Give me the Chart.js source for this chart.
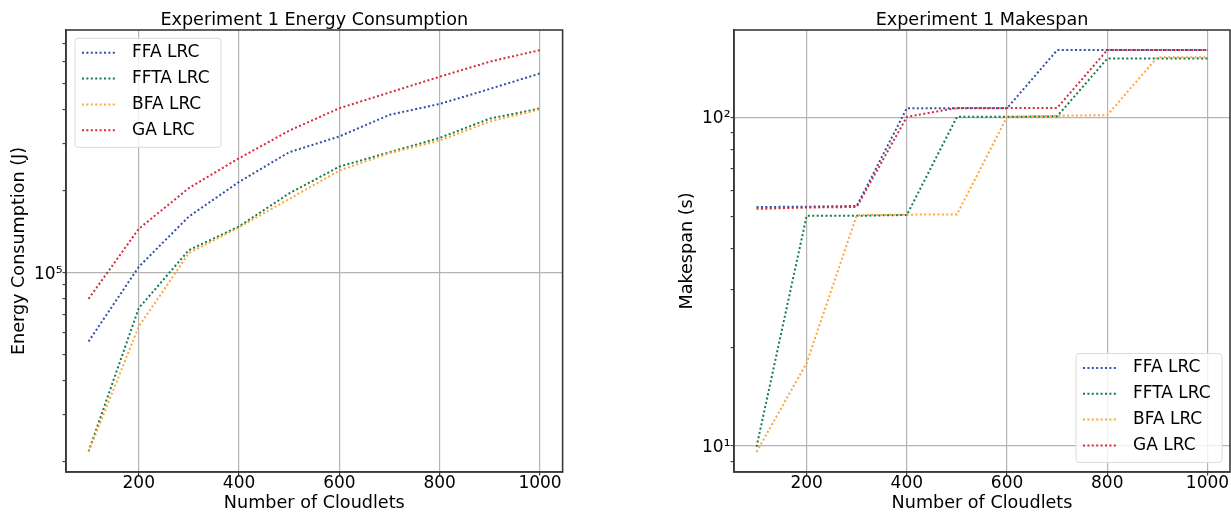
<!DOCTYPE html>
<html>
<head>
<meta charset="utf-8">
<script src="https://cdn.jsdelivr.net/npm/chart.js@4.4.0/dist/chart.umd.min.js"></script>
<style>
  html, body { margin: 0; padding: 0; background: #fff; }
  body { width: 1231px; height: 512px; position: relative; overflow: hidden; }
  .panel { position: absolute; top: 0; height: 512px; }
  #energyPanel { left: 0; width: 580px; }
  #makespanPanel { left: 660px; width: 571px; }
</style>
</head>
<body>
<div class="panel" id="energyPanel"><canvas id="energyChart" width="580" height="512"></canvas></div>
<div class="panel" id="makespanPanel"><canvas id="makespanChart" width="571" height="512"></canvas></div>
<script>
var cloudlets = [100, 200, 300, 400, 500, 600, 700, 800, 900, 1000];
var xTicks = [200, 400, 600, 800, 1000];
var seriesNames = ['FFA LRC', 'FFTA LRC', 'BFA LRC', 'GA LRC'];
var seriesColors = ['#3050a8', '#137c48', '#ffa53a', '#d42a3c'];

// energy (J) per cloudlet count
var energyFFA  = [55700, 105000, 161000, 216000, 278000, 318000, 382000, 419000, 476000, 543000];
var energyFFTA = [21900, 73900, 121000, 148000, 196000, 246000, 278000, 314000, 370000, 403000];
var energyBFA  = [21800, 63200, 118000, 147000, 187000, 238000, 276000, 307000, 361000, 400000];
var energyGA   = [80000, 145000, 205000, 264000, 334000, 404000, 462000, 528000, 600000, 662000];

// makespan (s) per cloudlet count
var makespanFFA  = [53.4, 53.5, 53.8, 106.7, 106.7, 106.7, 160.3, 160.3, 160.3, 160.3];
var makespanFFTA = [9.95, 50.2, 50.2, 50.5, 100.4, 100.4, 100.8, 151, 151, 151];
var makespanBFA  = [9.6, 17.9, 50.4, 50.6, 50.7, 100.4, 101.2, 101.6, 152.4, 152.4];
var makespanGA   = [52.7, 53.2, 53.4, 100.4, 106.9, 106.9, 106.9, 160.3, 160.3, 160.3];

var SUP = {'0': '\u2070', '1': '\u00b9', '2': '\u00b2', '3': '\u00b3', '4': '\u2074',
           '5': '\u2075', '6': '\u2076', '7': '\u2077', '8': '\u2078', '9': '\u2079', '-': '\u207b'};

Chart.defaults.font.family = '"DejaVu Sans", sans-serif';
Chart.defaults.color = '#000';

// 5% margin in log space, like matplotlib autoscaling
function logLimits(series) {
  var all = [].concat.apply([], series);
  var lo = Math.log10(Math.min.apply(null, all));
  var hi = Math.log10(Math.max.apply(null, all));
  var pad = (hi - lo) * 0.05;
  return { min: Math.pow(10, lo - pad), max: Math.pow(10, hi + pad) };
}

function logTicks(min, max) {
  var ticks = [];
  for (var e = Math.floor(Math.log10(min)); e <= Math.ceil(Math.log10(max)); e++) {
    for (var m = 1; m < 10; m++) {
      var v = m * Math.pow(10, e);
      if (v >= min && v <= max) ticks.push({ value: v, major: m === 1 });
    }
  }
  return ticks;
}

function makeDatasets(series) {
  return seriesNames.map(function(name, i) {
    return {
      label: name,
      data: cloudlets.map(function(c, j) { return { x: c, y: series[i][j] }; }),
      borderColor: seriesColors[i],
      backgroundColor: seriesColors[i],
      borderWidth: 2,
      borderDash: [2, 2.4],
      borderCapStyle: 'butt',
      pointRadius: 0,
      tension: 0,
      fill: false,
      order: seriesNames.length - 1 - i
    };
  });
}

// axes box on all four sides
var framePlugin = {
  id: 'frame',
  afterDatasetsDraw: function(chart) {
    var a = chart.chartArea, ctx = chart.ctx;
    ctx.save();
    ctx.strokeStyle = '#3a3a3a';
    ctx.lineWidth = 1.6;
    ctx.strokeRect(a.left, a.top, a.right - a.left, a.bottom - a.top);
    ctx.restore();
  }
};

// legend box drawn inside the plot area
var boxLegend = {
  id: 'boxLegend',
  afterDatasetsDraw: function(chart, args, opts) {
    var a = chart.chartArea, ctx = chart.ctx;
    var w = 146, h = 109, r = 3;
    var x = opts.corner === 'topLeft' ? a.left + opts.dx : a.right - opts.dx - w;
    var y = opts.corner === 'topLeft' ? a.top + opts.dy : a.bottom - opts.dy - h;
    ctx.save();
    ctx.beginPath();
    ctx.moveTo(x + r, y);
    ctx.arcTo(x + w, y, x + w, y + h, r);
    ctx.arcTo(x + w, y + h, x, y + h, r);
    ctx.arcTo(x, y + h, x, y, r);
    ctx.arcTo(x, y, x + w, y, r);
    ctx.closePath();
    ctx.fillStyle = 'rgba(255,255,255,0.8)';
    ctx.fill();
    ctx.strokeStyle = '#dcdcdc';
    ctx.lineWidth = 1;
    ctx.stroke();
    chart.data.datasets.forEach(function(ds, i) {
      var ry = y + 14.5 + i * 25.8;
      ctx.setLineDash(ds.borderDash);
      ctx.lineCap = 'butt';
      ctx.lineWidth = ds.borderWidth;
      ctx.strokeStyle = ds.borderColor;
      ctx.beginPath();
      ctx.moveTo(x + 7, ry);
      ctx.lineTo(x + 42, ry);
      ctx.stroke();
      ctx.setLineDash([]);
      ctx.fillStyle = '#000';
      ctx.font = '17px "DejaVu Sans"';
      ctx.textBaseline = 'middle';
      ctx.textAlign = 'left';
      ctx.fillText(ds.label, x + 57, ry);
    });
    ctx.restore();
  }
};

function buildChart(canvasId, cfg) {
  var lim = logLimits(cfg.series);
  return new Chart(document.getElementById(canvasId), {
    type: 'line',
    data: { datasets: makeDatasets(cfg.series) },
    plugins: [framePlugin, boxLegend],
    options: {
      responsive: false,
      animation: false,
      devicePixelRatio: 1,
      layout: { autoPadding: false, padding: { left: 0, right: cfg.padRight, top: 0, bottom: 0 } },
      plugins: {
        legend: { display: false },
        tooltip: { enabled: false },
        title: {
          display: true,
          fullSize: false,
          text: cfg.title,
          color: '#000',
          font: { size: 17.6, weight: 'normal', lineHeight: 1 },
          padding: { top: 12, bottom: 0.4 }
        },
        boxLegend: cfg.legend
      },
      scales: {
        x: {
          type: 'linear',
          min: 55,
          max: 1045,
          bounds: 'data',
          afterBuildTicks: function(scale) {
            scale.ticks = xTicks.map(function(v) { return { value: v }; });
          },
          afterFit: function(scale) { scale.height = 40; },
          grid: { color: '#b4b4b4', lineWidth: 1.2, tickColor: '#3a3a3a', tickLength: 3.5, tickWidth: 1.2 },
          border: { display: true, color: '#3a3a3a', width: 1.6 },
          ticks: {
            autoSkip: false, maxRotation: 0, padding: 0, color: '#000',
            font: { size: 17, lineHeight: 1 },
            callback: function(v) { return String(v); }
          },
          title: {
            display: true, text: 'Number of Cloudlets', color: '#000',
            font: { size: 17.6, lineHeight: 1 }, padding: { top: 0, bottom: 0 }
          }
        },
        y: {
          type: 'logarithmic',
          min: lim.min,
          max: lim.max,
          bounds: 'data',
          afterBuildTicks: function(scale) { scale.ticks = logTicks(scale.min, scale.max); },
          afterFit: function(scale) { scale.width = cfg.axisWidth; },
          grid: {
            color: function(c) { return c.tick && c.tick.major ? '#b4b4b4' : 'rgba(0,0,0,0)'; },
            lineWidth: 1.2,
            tickColor: '#3a3a3a',
            tickLength: 3.5,
            tickWidth: 1.1
          },
          border: { display: true, color: '#3a3a3a', width: 1.6 },
          ticks: {
            autoSkip: false, padding: 0, labelOffset: 1.5, color: '#000',
            font: { size: 17, lineHeight: 1 },
            callback: function(v, i, ticks) {
              if (!ticks[i].major) return '';
              var exp = String(Math.round(Math.log10(v)));
              return '10' + exp.split('').map(function(ch) { return SUP[ch]; }).join('');
            }
          },
          title: {
            display: true, text: cfg.yTitle, color: '#000',
            font: { size: 17.6, lineHeight: 1.2 }, padding: { top: cfg.yTitlePad, bottom: 0 }
          }
        }
      }
    }
  });
}

buildChart('energyChart', {
  title: 'Experiment 1 Energy Consumption',
  yTitle: 'Energy Consumption (J)',
  series: [energyFFA, energyFFTA, energyBFA, energyGA],
  axisWidth: 66,
  padRight: 17.4,
  yTitlePad: 9.2,
  legend: { corner: 'topLeft', dx: 9, dy: 8.3 }
});

buildChart('makespanChart', {
  title: 'Experiment 1 Makespan',
  yTitle: 'Makespan (s)',
  series: [makespanFFA, makespanFFTA, makespanBFA, makespanGA],
  axisWidth: 74,
  padRight: 1,
  yTitlePad: 17,
  legend: { corner: 'bottomRight', dx: 8, dy: 9.5 }
});
</script>
</body>
</html>
